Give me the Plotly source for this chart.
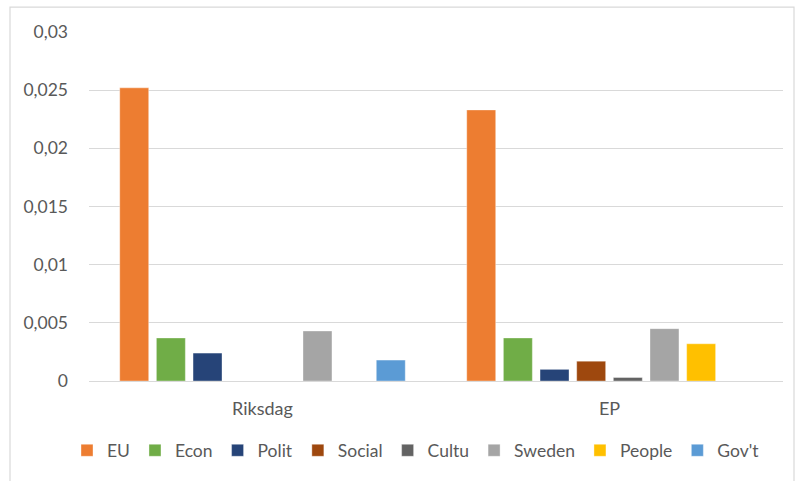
import plotly.graph_objects as go

categories = ["Riksdag", "EP"]
series_names = ["EU", "Econ", "Polit", "Social", "Cultu", "Sweden", "People", "Gov't"]
eu = [0.0252, 0.0233]
econ = [0.0037, 0.0037]
polit = [0.0024, 0.001]
social = [0.0, 0.0017]
cultu = [0.0, 0.0003]
sweden = [0.0043, 0.0045]
people = [0.0, 0.0032]
govt = [0.0018, 0.0]
colors = ["#ED7D31", "#70AD47", "#264478", "#9E480E", "#636363", "#A5A5A5", "#FFC000", "#5B9BD5"]

values = [eu, econ, polit, social, cultu, sweden, people, govt]

W, H = 795, 481
ML, MR, MT, MB = 89, 12, 32, 97
FONT = "Lato"
GRAY = "#595959"

fig = go.Figure()
for name, vals, col in zip(series_names, values, colors):
    fig.add_trace(go.Bar(
        x=categories, y=vals, name=name,
        marker=dict(color=col, line=dict(color="rgba(255,255,255,0.6)", width=0.6)),
    ))

pw = W - ML - MR
ph = H - MT - MB

# chart-area border (Excel style)
fig.add_shape(type="rect", xref="paper", yref="paper",
              x0=(10 - ML) / pw, x1=(W - 1 - ML) / pw,
              y0=(H - MB - (H + 5)) / ph, y1=(H - MB - 7) / ph,
              line=dict(color="#D9D9D9", width=1.2), fillcolor="rgba(0,0,0,0)", layer="below")

fig.update_layout(
    width=W, height=H,
    margin=dict(l=ML, r=MR, t=MT, b=MB),
    paper_bgcolor="white", plot_bgcolor="white",
    barmode="group", bargap=0.155, bargroupgap=0.21,
    separators=", ",
    font=dict(family=FONT, size=17.5, color=GRAY),
    showlegend=True,
    legend=dict(orientation="h", x=(416 - ML) / pw, xanchor="center",
                y=(H - MB - 454) / ph, yanchor="middle",
                font=dict(family=FONT, size=17.5, color=GRAY),
                itemwidth=30, tracegroupgap=0),
    xaxis=dict(showline=True, linecolor="#D9D9D9", linewidth=1.2, ticks="",
               showgrid=False, ticklabelstandoff=11,
               tickfont=dict(family=FONT, size=18, color=GRAY)),
    yaxis=dict(range=[0, 0.03], dtick=0.005, tick0=0, showgrid=True,
               gridcolor="#D9D9D9", gridwidth=1.2, zeroline=False,
               showline=False, ticks="", ticklabelstandoff=20,
               tickfont=dict(family=FONT, size=17.5, color=GRAY)),
)

fig.write_html("out.html")
